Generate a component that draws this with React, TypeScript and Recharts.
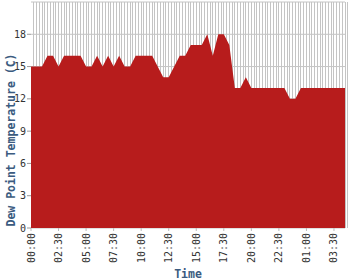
import React from "react";
import { AreaChart, Area, XAxis, YAxis, CartesianGrid } from "recharts";

// observation times, minutes since 00:00 on day one (every 30 min)
const times: number[] = Array.from({ length: 58 }, (_, i) => i * 30);

// dew point readings (C), one per observation
const dewPoint: number[] = [
  15, 15, 15, 16, 16, 15, 16, 16, 16, 16,
  15, 15, 16, 15, 16, 15, 16, 15, 15, 16,
  16, 16, 16, 15, 14, 14, 15, 16, 16, 17,
  17, 17, 18, 16, 18, 18, 17, 13, 13, 14,
  13, 13, 13, 13, 13, 13, 13, 12, 12, 13,
  13, 13, 13, 13, 13, 13, 13, 13,
];

const xTicks: number[] = [0, 150, 300, 450, 600, 750, 900, 1050, 1200, 1350, 1500, 1650];
const yTicks: number[] = [0, 3, 6, 9, 12, 15, 18];
const gridMinutes: number[] = Array.from({ length: 115 }, (_, i) => (i + 1) * 15);

const data = times.map((t, i) => ({ t, dp: dewPoint[i] }));

const mono = "'DejaVu Sans Mono', monospace";
const labelBlue = "#3b5b80";

function fmt(t: number) {
  const m = t % 1440;
  const hh = String(Math.floor(m / 60)).padStart(2, "0");
  const mm = String(m % 60).padStart(2, "0");
  return `${hh}:${mm}`;
}

function TimeTick(props: any) {
  const { x, y, payload } = props;
  return (
    <text
      x={x}
      y={y}
      dy="0.35em"
      transform={`rotate(-90, ${x}, ${y})`}
      textAnchor="end"
      fontFamily={mono}
      fontSize={10}
      fill="#333"
    >
      {fmt(payload.value)}
    </text>
  );
}

export default function App() {
  return (
    <div style={{ position: "absolute", left: 0, top: 0, width: 350, height: 280, background: "#fff" }}>
      <AreaChart width={350} height={280} data={data} margin={{ top: 2, right: 5, left: 0, bottom: 0 }}>
        <CartesianGrid
          stroke="#c4c4c4"
          strokeWidth={1}
          verticalCoordinatesGenerator={({ xAxis, offset }: any) =>
            gridMinutes.map((m) => {
              const px =
                xAxis && typeof xAxis.scale === "function"
                  ? xAxis.scale(m)
                  : offset.left + (m / 1710) * offset.width;
              // snap to pixel centres so the lines stay crisp
              return Math.floor(px) + 0.5;
            })
          }
        />
        <XAxis
          dataKey="t"
          type="number"
          domain={[0, 1710]}
          ticks={xTicks}
          interval={0}
          height={52}
          axisLine={false}
          tickSize={3}
          tickMargin={2}
          tickLine={{ stroke: "#bbb" }}
          tick={<TimeTick />}
          label={{
            value: "Time",
            position: "insideBottom",
            offset: 2,
            style: { fontFamily: mono, fontSize: 11.5, fontWeight: "bold", fill: labelBlue },
          }}
        />
        <YAxis
          domain={[0, 21]}
          ticks={yTicks}
          interval={0}
          width={31}
          axisLine={false}
          tickSize={4}
          tickMargin={1}
          tickLine={{ stroke: "#999" }}
          tick={{ fontFamily: mono, fontSize: 10, fill: "#333" }}
          label={{
            value: "Dew Point Temperature (C)",
            angle: -90,
            position: "insideLeft",
            offset: 11,
            dy: 25,
            style: { fontFamily: mono, fontSize: 11.5, fontWeight: "bold", fill: labelBlue, textAnchor: "middle" },
          }}
        />
        <Area
          type="linear"
          dataKey="dp"
          stroke="none"
          fill="#b71c1c"
          fillOpacity={1}
          isAnimationActive={false}
        />
      </AreaChart>
    </div>
  );
}
